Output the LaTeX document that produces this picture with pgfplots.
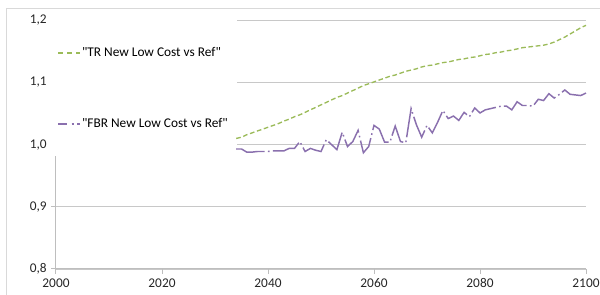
\documentclass[border=0pt]{standalone}
\usepackage{pgfplots}
\pgfplotsset{compat=1.18}
\usepackage{fontspec}
\setmainfont{Carlito}[Ligatures=TeXOff]
\definecolor{trgreen}{HTML}{9BBB59}
\definecolor{fbrpurple}{HTML}{8A70AE}
\definecolor{gridgray}{HTML}{C8C8C8}
\definecolor{axgray}{HTML}{BEBEBE}
\definecolor{bordergray}{HTML}{D9D9D9}
\begin{document}
\begin{tikzpicture}
\path[use as bounding box, clip] (-42pt,-19.5pt) rectangle (408pt,201.75pt);
\draw[bordergray, line width=0.75pt] (-36.75pt,195pt) rectangle (415.5pt,-30.75pt);
\begin{axis}[
  at={(0,0)}, anchor=south west,
  scale only axis, width=397.5pt, height=186.5pt,
  xmin=2000, xmax=2100, ymin=0.8, ymax=1.2,
  xtick={2000,2020,...,2100},
  ytick={0.8,0.9,1.0,1.1,1.2},
  axis lines=left,
  axis line style={axgray, line width=0.75pt, -},
  tick style={axgray, line width=0.75pt},
  tick align=outside, major tick length=3.5pt,
  ymajorgrids, grid style={gridgray, line width=1pt},
  xticklabel style={/pgf/number format/1000 sep={}},
  yticklabel style={/pgf/number format/.cd, use comma, fixed, fixed zerofill, precision=1},
  /pgf/number format/assume math mode=true,
  tick label style={font=\fontsize{10}{12}\selectfont, black!85},
  xtick pos=bottom, ytick pos=left,
  clip=false,
  legend cell align=left,
  legend style={draw=none, fill=none, at={(0.0019,0.899)}, anchor=north west,
    inner sep=0pt, row sep=42.25pt, font=\fontsize{10}{12}\selectfont,
    nodes={inner sep=1pt, text height=7pt, text depth=2pt}},
]
\fill[white] (rel axis cs:-0.0151,1.023) rectangle (rel axis cs:0.3415,0.455);
\addplot[trgreen, line width=1pt, dash pattern=on 3.5pt off 2pt,
  legend image code/.code={\draw[trgreen, line width=1pt, dash pattern=on 3.75pt off 3pt] (0pt,0pt) -- (16.5pt,0pt);}] coordinates {
(2034,1.010)(2035,1.012)(2036,1.016)(2037,1.019)(2038,1.022)(2039,1.025)(2040,1.028)
(2041,1.031)(2042,1.034)(2043,1.038)(2044,1.041)(2045,1.045)(2046,1.048)(2047,1.052)
(2048,1.056)(2049,1.060)(2050,1.064)(2051,1.068)(2052,1.072)(2053,1.076)(2054,1.079)
(2055,1.083)(2056,1.087)(2057,1.091)(2058,1.095)(2059,1.098)(2060,1.101)(2061,1.104)
(2062,1.107)(2063,1.110)(2064,1.112)(2065,1.115)(2066,1.118)(2067,1.120)(2068,1.122)
(2069,1.125)(2070,1.127)(2071,1.128)(2072,1.130)(2073,1.132)(2074,1.133)(2075,1.135)
(2076,1.137)(2077,1.138)(2078,1.140)(2079,1.141)(2080,1.143)(2081,1.145)(2082,1.146)
(2083,1.148)(2084,1.149)(2085,1.151)(2086,1.152)(2087,1.154)(2088,1.156)(2089,1.157)
(2090,1.158)(2091,1.159)(2092,1.160)(2093,1.162)(2094,1.165)(2095,1.169)(2096,1.173)
(2097,1.178)(2098,1.183)(2099,1.188)(2100,1.192)};
\addlegendentry{"TR New Low Cost vs Ref"}
\addplot[fbrpurple, line width=1.1pt, dash pattern=on 22pt off 2.5pt on 1.2pt off 2.5pt,
  legend image code/.code={\draw[fbrpurple, line width=1.1pt, dash pattern=on 6.75pt off 3.5pt on 1.5pt off 2.5pt] (0pt,0pt) -- (16.5pt,0pt);}] coordinates {
(2034,0.993)(2035,0.993)(2036,0.988)(2037,0.988)(2038,0.989)(2039,0.989)(2040,0.989)
(2041,0.990)(2042,0.990)(2043,0.990)(2044,0.994)(2045,0.994)(2046,1.005)(2047,0.989)
(2048,0.994)(2049,0.991)(2050,0.989)(2051,1.008)(2052,1.000)(2053,0.992)(2054,1.020)
(2055,0.997)(2056,1.005)(2057,1.023)(2058,0.987)(2059,0.997)(2060,1.031)(2061,1.025)
(2062,1.004)(2063,1.004)(2064,1.030)(2065,1.005)(2066,1.003)(2067,1.058)(2068,1.032)
(2069,1.012)(2070,1.031)(2071,1.019)(2072,1.036)(2073,1.055)(2074,1.042)(2075,1.046)
(2076,1.039)(2077,1.052)(2078,1.045)(2079,1.059)(2080,1.051)(2081,1.056)(2082,1.058)
(2083,1.060)(2084,1.062)(2085,1.062)(2086,1.056)(2087,1.069)(2088,1.063)(2089,1.063)
(2090,1.062)(2091,1.073)(2092,1.071)(2093,1.082)(2094,1.075)(2095,1.081)(2096,1.088)
(2097,1.081)(2098,1.080)(2099,1.079)(2100,1.083)};
\addlegendentry{"FBR New Low Cost vs Ref"}
\end{axis}
\end{tikzpicture}
\end{document}
